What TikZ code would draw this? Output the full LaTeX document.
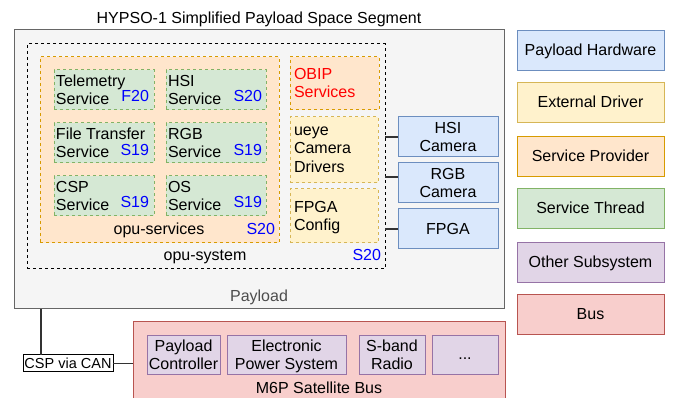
\documentclass[tikz,border=0pt]{standalone}
\usepackage{fontspec}
\setmainfont{Liberation Sans}
\usetikzlibrary{calc}

\definecolor{hwfill}{HTML}{DAE8FC}\definecolor{hwline}{HTML}{6C8EBF}
\definecolor{drvfill}{HTML}{FFF2CC}\definecolor{drvline}{HTML}{D6B656}
\definecolor{spfill}{HTML}{FFE6CC}\definecolor{spline}{HTML}{D79B00}
\definecolor{thfill}{HTML}{D5E8D4}\definecolor{thline}{HTML}{82B366}
\definecolor{osfill}{HTML}{E1D5E7}\definecolor{osline}{HTML}{9673A6}
\definecolor{busfill}{HTML}{F8CECC}\definecolor{busline}{HTML}{B85450}
\definecolor{plfill}{HTML}{F5F5F5}\definecolor{plline}{HTML}{666666}
\definecolor{tagblue}{HTML}{0000FF}
\definecolor{obipred}{HTML}{FF0000}
\definecolor{connc}{HTML}{333333}
\definecolor{labgray}{HTML}{4D4D4D}

\begin{document}
\begin{tikzpicture}[x=1pt,y=-1pt,
  every node/.style={font=\fontsize{16}{18}\selectfont, inner sep=0pt, outer sep=0pt},
  blk/.style={draw, line width=1pt, anchor=north west},
  dsh/.style={dash pattern=on 3pt off 3pt},
  hw/.style={blk, fill=hwfill, draw=hwline},
  drv/.style={blk, fill=drvfill, draw=drvline},
  sp/.style={blk, fill=spfill, draw=spline},
  th/.style={blk, fill=thfill, draw=thline},
  oss/.style={blk, fill=osfill, draw=osline},
  busbox/.style={blk, fill=busfill, draw=busline},
  leg/.style={draw, line width=1pt, minimum width=147pt, minimum height=40pt,
              text height=10pt, text depth=0pt},
  lt/.style={anchor=base west},
  ct/.style={anchor=base},
  tag/.style={anchor=base east, text=tagblue},
  conn/.style={draw=connc, line width=1.2pt}
]
\clip (0,0) rectangle (673,398);
\fill[white] (0,0) rectangle (673,398);

% title
\node[ct] (title) at (259,24) {HYPSO-1 Simplified Payload Space Segment};

% payload container
\node[blk, fill=plfill, draw=plline, minimum width=490pt, minimum height=279pt] (payload) at (14,30) {};
\node[ct, text=labgray] (payloadlbl) at (259,302) {Payload};

% opu-system
\node[blk, draw=black, dsh, minimum width=358pt, minimum height=225pt] (opusys) at (27,44) {};
\node[ct] (opusyslbl) at (205,261) {opu-system};
\node[tag] (opusystag) at (381,261) {S20};

% opu-services
\node[sp, dsh, minimum width=239pt, minimum height=186pt] (opuserv) at (40,57) {};
\node[ct] (opuservlbl) at (159,235) {opu-services};
\node[tag] (opuservtag) at (275,235) {S20};

% service threads
\node[th, dsh, minimum width=100pt, minimum height=40pt] (tel) at (54,70) {};
\node[th, dsh, minimum width=100pt, minimum height=40pt] (hsis) at (166,70) {};
\node[th, dsh, minimum width=100pt, minimum height=40pt] (fts) at (54,123) {};
\node[th, dsh, minimum width=100pt, minimum height=40pt] (rgbs) at (166,123) {};
\node[th, dsh, minimum width=100pt, minimum height=40pt] (csps) at (54,176) {};
\node[th, dsh, minimum width=100pt, minimum height=40pt] (oss) at (166,176) {};

\node[lt] (tel1) at (56,87) {Telemetry};
\node[lt] (tel2) at (56,105) {Service};
\node[tag] (teltag) at (149,102) {F20};
\node[lt] (hsis1) at (168,87) {HSI};
\node[lt] (hsis2) at (168,105) {Service};
\node[tag] (hsistag) at (262,102) {S20};

\node[lt] (fts1) at (56,140) {File Transfer};
\node[lt] (fts2) at (56,158) {Service};
\node[tag] (ftstag) at (149,155.5) {S19};
\node[lt] (rgbs1) at (168,140) {RGB};
\node[lt] (rgbs2) at (168,158) {Service};
\node[tag] (rgbstag) at (262,155.5) {S19};

\node[lt] (csps1) at (56,192.5) {CSP};
\node[lt] (csps2) at (56,210.5) {Service};
\node[tag] (cspstag) at (149,208) {S19};
\node[lt] (oss1) at (168,192.5) {OS};
\node[lt] (oss2) at (168,210.5) {Service};
\node[tag] (osstag) at (262,208) {S19};

% OBIP and external drivers
\node[sp, dsh, minimum width=89pt, minimum height=53pt] (obip) at (290,57) {};
\node[lt, text=obipred] (obip1) at (294,80) {OBIP};
\node[lt, text=obipred] (obip2) at (294,98) {Services};

\node[drv, dsh, minimum width=88pt, minimum height=66pt] (ueye) at (290,117) {};
\node[lt] (ueye1) at (294,136) {ueye};
\node[lt] (ueye2) at (294,154) {Camera};
\node[lt] (ueye3) at (294,173) {Drivers};

\node[drv, dsh, minimum width=88pt, minimum height=54pt] (fpgacfg) at (290,189) {};
\node[lt] (fpgacfg1) at (294,213) {FPGA};
\node[lt] (fpgacfg2) at (294,231) {Config};

% payload hardware
\node[hw, minimum width=100pt, minimum height=40pt] (hsicam) at (398,117) {};
\node[ct] (hsicam1) at (448,134) {HSI};
\node[ct] (hsicam2) at (448,152) {Camera};
\node[hw, minimum width=100pt, minimum height=40pt] (rgbcam) at (398,163) {};
\node[ct] (rgbcam1) at (448,180) {RGB};
\node[ct] (rgbcam2) at (448,198) {Camera};
\node[hw, minimum width=100pt, minimum height=40pt] (fpga) at (398,209) {};
\node[ct] (fpga1) at (448,235) {FPGA};

\draw[conn] (hsicam.west) -- (hsicam.west -| opusys.east);
\draw[conn] ([yshift=6pt]rgbcam.west) -- ([yshift=6pt]rgbcam.west -| opusys.east);
\draw[conn] (fpga.west) -- (fpga.west -| opusys.east);

% satellite bus
\node[busbox, minimum width=372pt, minimum height=90pt] (bus) at (133,322) {};
\node[ct] (buslbl) at (319,394) {M6P Satellite Bus};
\node[oss, minimum width=73pt, minimum height=39pt] (pc) at (147,336) {};
\node[ct] (pc1) at (183.5,352) {Payload};
\node[ct] (pc2) at (183.5,370) {Controller};
\node[oss, minimum width=119pt, minimum height=39pt] (eps) at (227,336) {};
\node[ct] (eps1) at (286.5,352) {Electronic};
\node[ct] (eps2) at (286.5,370) {Power System};
\node[oss, minimum width=66pt, minimum height=39pt] (sband) at (359,336) {};
\node[ct] (sband1) at (392,352) {S-band};
\node[ct] (sband2) at (392,370) {Radio};
\node[oss, minimum width=66pt, minimum height=39pt] (more) at (432,336) {};
\node[ct] (more1) at (465,360) {...};

% CAN link
\node[blk, draw=black, fill=white, minimum width=90pt, minimum height=17pt] (can) at (23,355) {};
\node[ct, font=\fontsize{14.5}{17}\selectfont] (canlbl) at (68,368.5) {CSP via CAN};
\draw[conn] ([xshift=18pt]can.north west) -- ([xshift=18pt]can.north west |- payload.south);
\draw[conn] (can.east) -- (can.east -| bus.west);

% legend
\node[leg, fill=hwfill, draw=hwline] (lhw) at (590.5,51) {Payload Hardware};
\node[leg, fill=drvfill, draw=drvline] (ldrv) at (590.5,103) {External Driver};
\node[leg, fill=spfill, draw=spline] (lsp) at (590.5,157) {Service Provider};
\node[leg, fill=thfill, draw=thline] (lth) at (590.5,209) {Service Thread};
\node[leg, fill=osfill, draw=osline] (los) at (590.5,263) {Other Subsystem};
\node[leg, fill=busfill, draw=busline] (lbus) at (590.5,315) {Bus};
\end{tikzpicture}
\end{document}
